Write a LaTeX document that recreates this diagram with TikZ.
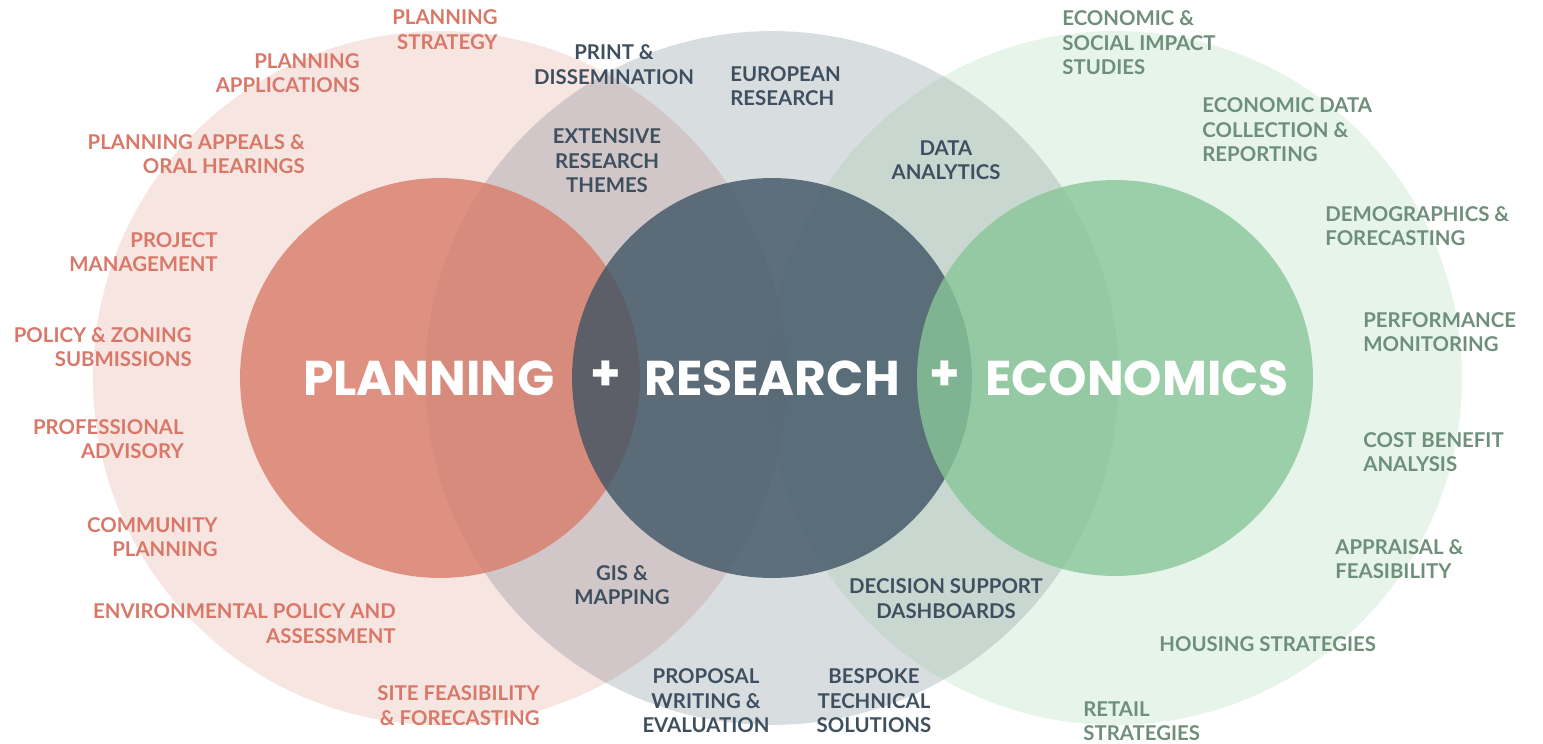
\documentclass[tikz,border=0pt]{standalone}
\usepackage{fontspec}
\newfontfamily\labelfont{Lato}
\newfontfamily\titlefont{Poppins}
\definecolor{planred}{RGB}{216,124,105}
\definecolor{resgrey}{RGB}{62,84,100}
\definecolor{ecogreen}{RGB}{136,198,152}
\definecolor{plantext}{RGB}{217,120,104}
\definecolor{restext}{RGB}{62,80,96}
\definecolor{ecotext}{RGB}{110,143,122}

\tikzset{
  outer/.style={opacity=0.2},
  inner/.style={opacity=0.8},
  item/.style={inner sep=0pt, font=\labelfont\bfseries\fontsize{11.6}{13.9}\selectfont},
  plan/.style={item, text=plantext, align=right, anchor=east},
  res/.style={item, text=restext, align=center},
  eco/.style={item, text=ecotext, align=left, anchor=west},
  title/.style={inner sep=0pt, text=white, font=\titlefont\bfseries\fontsize{27.8}{30}\selectfont},
}

\begin{document}
\begin{tikzpicture}[x=0.02cm,y=-0.02cm]
        \useasboundingbox (0,0) rectangle (1543,744);

        % big circles
        \fill[planred, outer] (440,378) circle (6.94cm);
        \fill[resgrey, outer] (772,378) circle (6.94cm);
        \fill[ecogreen, outer] (1115,378) circle (6.94cm);

        % small circles
        \fill[planred, inner] (440,378) circle (4cm);
        \fill[resgrey, inner] (772,378) circle (4cm);
        \fill[ecogreen, inner] (1115,378) circle (3.96cm);

        \node[title] (planning) at (429,378) {PLANNING};
        \node[title] (plusa) at (606,376) {+};
        \node[title] (research) at (772,378) {RESEARCH};
        \node[title] (plusb) at (945,376) {+};
        \node[title] (economics) at (1137,378) {ECONOMICS};

        % planning
        \node[plan] (pstrat) at (498,29.5) {PLANNING\\STRATEGY};
        \node[plan] (papps) at (360,73) {PLANNING\\APPLICATIONS};
        \node[plan] (pappeal) at (305,154) {PLANNING APPEALS \&\\ORAL HEARINGS};
        \node[plan] (pproj) at (218,252) {PROJECT\\MANAGEMENT};
        \node[plan] (ppolicy) at (192,347) {POLICY \& ZONING\\SUBMISSIONS};
        \node[plan] (pprof) at (184,439) {PROFESSIONAL\\ADVISORY};
        \node[plan] (pcomm) at (218,537) {COMMUNITY\\PLANNING};
        \node[plan] (penv) at (396,623.5) {ENVIRONMENTAL POLICY AND\\ASSESSMENT};
        \node[plan] (psite) at (540,705.5) {SITE FEASIBILITY\\\& FORECASTING};

        % research
        \node[res] (rprint) at (614,64.5) {PRINT \&\\DISSEMINATION};
        \node[res, align=left, anchor=west] (reuro) at (730,86) {EUROPEAN\\RESEARCH};
        \node[res] (rext) at (607,161) {EXTENSIVE\\RESEARCH\\THEMES};
        \node[res] (rdata) at (946,160.5) {DATA\\ANALYTICS};
        \node[res] (rgis) at (622,585) {GIS \&\\MAPPING};
        \node[res] (rdec) at (946,598.5) {DECISION SUPPORT\\DASHBOARDS};
        \node[res] (rprop) at (706,701) {PROPOSAL\\WRITING \&\\EVALUATION};
        \node[res] (rbesp) at (874,701) {BESPOKE\\TECHNICAL\\SOLUTIONS};

        % economics
        \node[eco] (eimpact) at (1062,43) {ECONOMIC \&\\SOCIAL IMPACT\\STUDIES};
        \node[eco] (edata) at (1202,130) {ECONOMIC DATA\\COLLECTION \&\\REPORTING};
        \node[eco] (edemo) at (1325,226) {DEMOGRAPHICS \&\\FORECASTING};
        \node[eco] (eperf) at (1363,332) {PERFORMANCE\\MONITORING};
        \node[eco] (ecost) at (1363,452) {COST BENEFIT\\ANALYSIS};
        \node[eco] (eappr) at (1335,559) {APPRAISAL \&\\FEASIBILITY};
        \node[eco] (ehouse) at (1159,644) {HOUSING STRATEGIES};
        \node[eco] (eretail) at (1083,721) {RETAIL\\STRATEGIES};

        \end{tikzpicture}
\end{document}
